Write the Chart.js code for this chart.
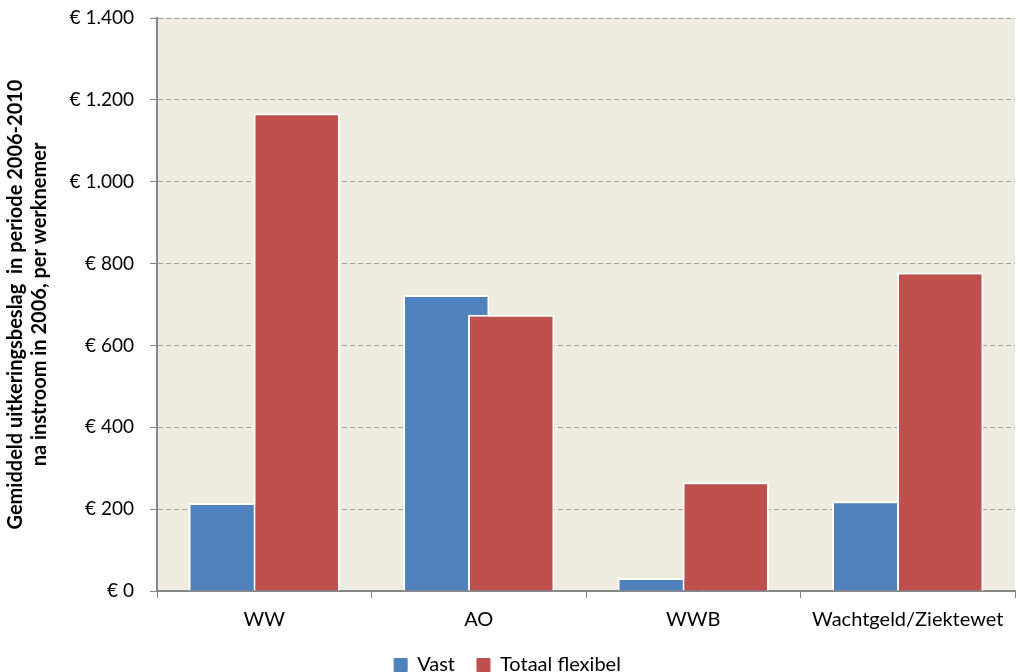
<!DOCTYPE html>
<html>
<head>
<meta charset="utf-8">
<script src="https://cdn.jsdelivr.net/npm/chart.js@4.4.1/dist/chart.umd.min.js"></script>
<style>
  html, body { margin: 0; padding: 0; background: #fff; }
  #wrap { width: 1022px; height: 672px; }
</style>
</head>
<body>
<div id="wrap"><canvas id="chart" width="1022" height="672"></canvas></div>
<script>
const categories = ['WW', 'AO', 'WWB', 'Wachtgeld/Ziektewet'];
const vast = [215, 723, 32, 219];
const totaalFlexibel = [1167, 675, 266, 778];
const yTicks = [0, 200, 400, 600, 800, 1000, 1200, 1400];

const FONT = 'Lato, "Open Sans", sans-serif';

// plot area background
const plotBg = {
    id: 'plotBg',
    beforeDraw: function(chart) {
        const a = chart.chartArea;
        const ctx = chart.ctx;
        ctx.save();
        ctx.fillStyle = '#EEECE1';
        ctx.fillRect(a.left, a.top, a.right - a.left, a.bottom - a.top);
        ctx.restore();
    }
};

// draw first dataset below the second one (red overlaps blue)
const drawOrder = {
    id: 'drawOrder',
    beforeDatasetsDraw: function(chart) {
        for (let i = 0; i < chart.data.datasets.length; i++) {
            const meta = chart.getDatasetMeta(i);
            if (meta.visible) meta.controller.draw();
        }
        return false;
    }
};

function euro(v) {
    return '€ ' + v.toString().replace(/\B(?=(\d{3})+(?!\d))/g, '.');
}

new Chart(document.getElementById('chart'), {
    type: 'bar',
    data: {
        labels: categories,
        datasets: [{
            label: 'Vast',
            data: vast,
            backgroundColor: '#4F81BD',
            borderColor: '#FFFFFF',
            borderWidth: 2,
            categoryPercentage: 0.606,
            barPercentage: 1.33
        }, {
            label: 'Totaal flexibel',
            data: totaalFlexibel,
            backgroundColor: '#C0504D',
            borderColor: '#FFFFFF',
            borderWidth: 2,
            categoryPercentage: 0.606,
            barPercentage: 1.33
        }]
    },
    options: {
        responsive: false,
        animation: false,
        layout: { padding: { top: 18, right: 7, left: 0, bottom: -13 } },
        plugins: {
            legend: {
                position: 'bottom',
                labels: {
                    boxWidth: 13,
                    boxHeight: 13,
                    padding: 22,
                    color: '#000',
                    font: { family: FONT, size: 20 },
                    generateLabels: function(chart) {
                        const items = Chart.defaults.plugins.legend.labels.generateLabels(chart);
                        items.forEach(function(it) {
                            it.strokeStyle = it.fillStyle;
                            it.lineWidth = 1;
                        });
                        return items;
                    }
                }
            },
            tooltip: { enabled: false }
        },
        scales: {
            x: {
                afterFit: function(scale) { scale.height -= 9; },
                grid: {
                    drawOnChartArea: false,
                    drawTicks: true,
                    tickLength: 7,
                    color: '#868686'
                },
                border: { color: '#868686', width: 2 },
                ticks: {
                    color: '#000',
                    padding: 10,
                    font: { family: FONT, size: 20 }
                }
            },
            y: {
                min: 0,
                max: 1400,
                afterFit: function(scale) {
                    scale.width = 157;
                    scale.paddingTop = 0;
                    scale.paddingBottom = 0;
                },
                afterBuildTicks: function(scale) {
                    scale.ticks = yTicks.map(v => ({ value: v }));
                },
                grid: {
                    color: '#A0A0A0',
                    tickLength: 7,
                    tickBorderDash: [],
                    tickColor: '#868686'
                },
                border: { color: '#868686', width: 2, dash: [5, 3] },
                ticks: {
                    color: '#000',
                    padding: 16,
                    font: { family: FONT, size: 19 },
                    callback: function(value) { return euro(value); }
                },
                title: {
                    display: true,
                    text: ['Gemiddeld uitkeringsbeslag  in periode 2006-2010', 'na instroom in 2006, per werknemer'],
                    color: '#000',
                    padding: { top: 4, bottom: 4 },
                    font: { family: FONT, size: 20, weight: 'bold', lineHeight: 1.2 }
                }
            }
        }
    },
    plugins: [plotBg, drawOrder]
});
</script>
</body>
</html>
